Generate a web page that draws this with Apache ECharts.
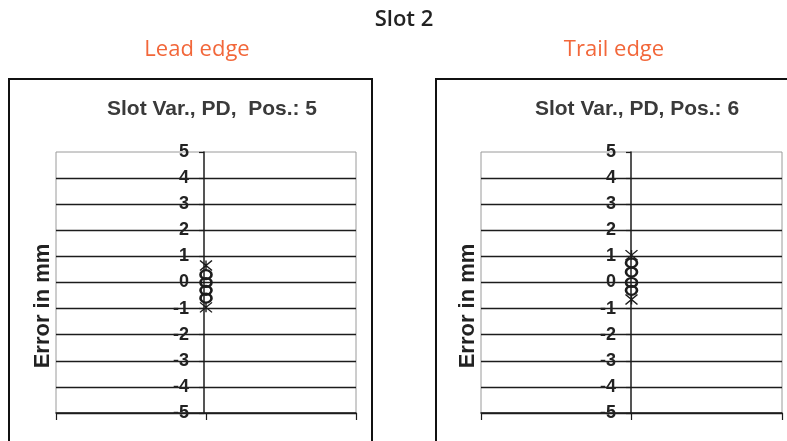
<!DOCTYPE html>
<html><head><meta charset="utf-8">
<script src="https://cdn.jsdelivr.net/npm/echarts@6/dist/echarts.min.js"></script>
<style>html,body{margin:0;padding:0;background:#fff}#c{width:787px;height:441px}</style>
</head><body><div id="c"></div>
<script>
// Data
const mainTitle = 'Slot 2';
const panelHeaders = ['Lead edge', 'Trail edge'];
const panelTitles = ['Slot Var., PD,  Pos.: 5', 'Slot Var., PD, Pos.: 6'];
const yAxisName = 'Error in mm';
const yTicks = [-5, -4, -3, -2, -1, 0, 1, 2, 3, 4, 5];
// Pos 5 (lead edge)
const leadExtremes = [0.65, -0.95];
const leadPoints = [0.3, 0.0, -0.3, -0.6];
// Pos 6 (trail edge)
const trailExtremes = [1.05, -0.65];
const trailPoints = [0.75, 0.4, 0.0, -0.3];

const starPath = 'path://M0,0L10,10M10,0L0,10M5,0L5,10';
const dark = '#1c1c1c';

const grids = [
  {left: 56, top: 152, width: 300, height: 261, axisOffset: -148},
  {left: 481, top: 152, width: 301, height: 261, axisOffset: -150}
];

function xAx(i){
  return {gridIndex:i, type:'value', min:-1, max:1, interval:1,
    axisLine:{onZero:false, lineStyle:{color:dark, width:1.5}},
    axisTick:{show:true, length:7, lineStyle:{color:dark, width:1.2}},
    axisLabel:{show:false}, splitLine:{show:false}};
}
function yAx(i){
  return {gridIndex:i, type:'value', position:'left', offset:grids[i].axisOffset,
    min:yTicks[0], max:yTicks[yTicks.length-1], interval:1,
    axisLine:{onZero:false, lineStyle:{color:dark, width:1.5}},
    axisTick:{show:true, length:5, lineStyle:{color:dark, width:1.2}},
    axisLabel:{margin:15, fontFamily:'Liberation Sans, Arial', fontWeight:'bold', fontSize:18, color:'#222'},
    splitLine:{show:true, showMaxLine:false, lineStyle:{color:dark, width:1.3}}};
}
function pts(arr){ return arr.map(v => [0, v]); }

const option = {
  animation:false,
  backgroundColor:'#fff',
  grid: grids.map(g => ({show:true, borderColor:'#9a9a9a', borderWidth:1, backgroundColor:'#fff',
    left:g.left, top:g.top, width:g.width, height:g.height})),
  xAxis:[xAx(0), xAx(1)],
  yAxis:[yAx(0), yAx(1)],
  series:[
    {type:'scatter', z:5, xAxisIndex:0, yAxisIndex:0, data:pts(leadExtremes), symbol:starPath, symbolSize:[12,10],
      itemStyle:{color:'none', opacity:1, borderColor:dark, borderWidth:1.3}},
    {type:'scatter', z:5, xAxisIndex:0, yAxisIndex:0, data:pts(leadPoints), symbol:'circle', symbolSize:[11,9],
      itemStyle:{color:'none', opacity:1, borderColor:dark, borderWidth:2.4}},
    {type:'scatter', z:5, xAxisIndex:1, yAxisIndex:1, data:pts(trailExtremes), symbol:starPath, symbolSize:[12,10],
      itemStyle:{color:'none', opacity:1, borderColor:dark, borderWidth:1.3}},
    {type:'scatter', z:5, xAxisIndex:1, yAxisIndex:1, data:pts(trailPoints), symbol:'circle', symbolSize:[11,9],
      itemStyle:{color:'none', opacity:1, borderColor:dark, borderWidth:2.4}}
  ],
  graphic:[
    {type:'rect', z:-10, shape:{x:9, y:79, width:363, height:400}, style:{fill:'#fff', stroke:'#111', lineWidth:2}},
    {type:'rect', z:-10, shape:{x:436, y:79, width:400, height:400}, style:{fill:'#fff', stroke:'#111', lineWidth:2}},
    {type:'text', x:404, y:20, style:{text:mainTitle, align:'center', verticalAlign:'middle', fontFamily:'Open Sans', fontWeight:600, fontSize:22, fill:'#222'}},
    {type:'text', x:197, y:50, style:{text:panelHeaders[0], align:'center', verticalAlign:'middle', fontFamily:'Open Sans', fontSize:22, fill:'#f2673a'}},
    {type:'text', x:614, y:50, style:{text:panelHeaders[1], align:'center', verticalAlign:'middle', fontFamily:'Open Sans', fontSize:22, fill:'#f2673a'}},
    {type:'text', x:212, y:109, style:{text:panelTitles[0], align:'center', verticalAlign:'middle', fontFamily:'Liberation Sans, Arial', fontWeight:'bold', fontSize:21, fill:'#3a3a3a'}},
    {type:'text', x:637, y:109, style:{text:panelTitles[1], align:'center', verticalAlign:'middle', fontFamily:'Liberation Sans, Arial', fontWeight:'bold', fontSize:21, fill:'#3a3a3a'}},
    {type:'text', x:43, y:306, rotation:Math.PI/2, style:{text:yAxisName, align:'center', verticalAlign:'middle', fontFamily:'Liberation Sans, Arial', fontWeight:'bold', fontSize:22, fill:'#222'}},
    {type:'text', x:468, y:306, rotation:Math.PI/2, style:{text:yAxisName, align:'center', verticalAlign:'middle', fontFamily:'Liberation Sans, Arial', fontWeight:'bold', fontSize:22, fill:'#222'}}
  ]
};
const chart = echarts.init(document.getElementById('c'), null, {renderer:'canvas'});
chart.setOption(option);
</script></body></html>
